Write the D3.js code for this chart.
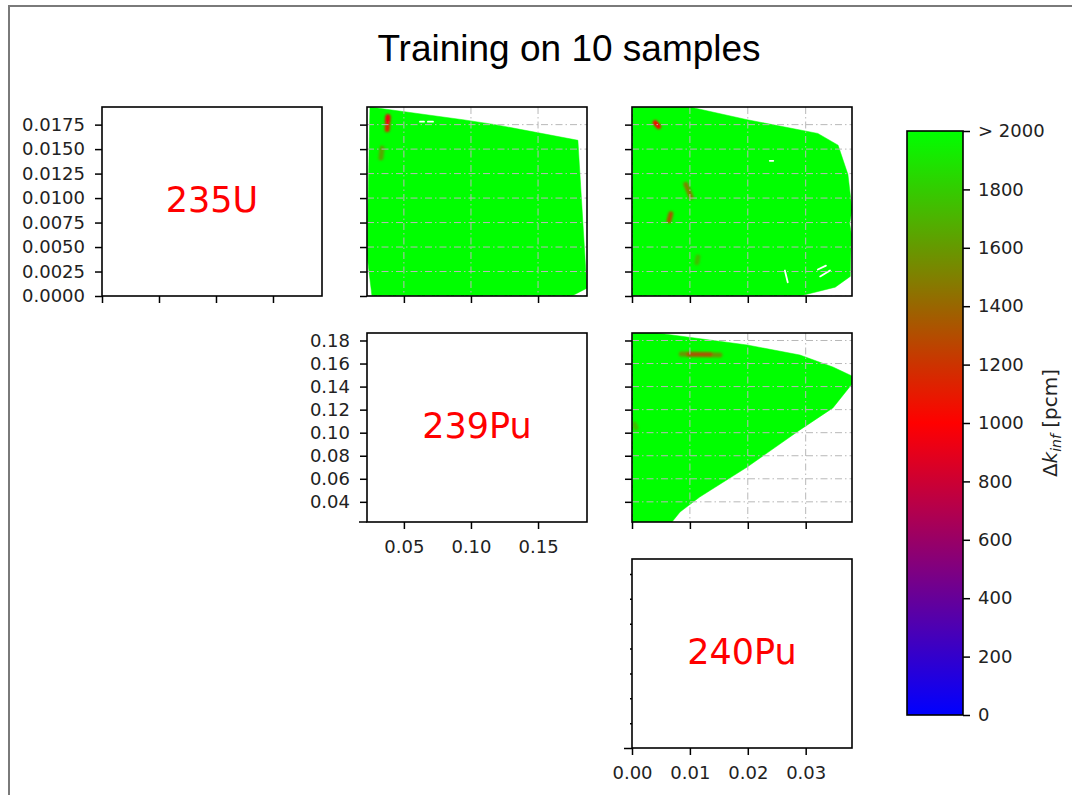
<!DOCTYPE html>
<html>
<head>
<meta charset="utf-8">
<script src="https://cdn.jsdelivr.net/npm/d3@7"></script>
<style>
  body { margin: 0; background: #fff; }
  svg { display: block; }
  .tick text { font-family: "DejaVu Sans", sans-serif; font-size: 18px; fill: #222; }
  .tick line { stroke: #000; stroke-width: 1.5; }
</style>
</head>
<body>
<svg id="chart" width="1072" height="795"></svg>
<script>
// isotopes on the diagonal of the corner plot
var isotopes = ["235U", "239Pu", "240Pu"];
var domains = [[0, 0.0193], [0.0225, 0.1865], [0, 0.038]];
var tickVals = [
    [0, 0.0025, 0.005, 0.0075, 0.01, 0.0125, 0.015, 0.0175],
    [0.04, 0.06, 0.08, 0.10, 0.12, 0.14, 0.16, 0.18],
    [0, 0.01, 0.02, 0.03]
];
var xTickVals = [
    [0, 0.005, 0.010, 0.015],
    [0.05, 0.10, 0.15],
    [0, 0.01, 0.02, 0.03]
];
var diagYTicks = [0, 0.005, 0.01, 0.015, 0.02, 0.025, 0.03, 0.035];
var tickFormats = [".4f", ".2f", ".2f"];

// colour bar
var cbarStops = [0, 1000, 2000];
var cbarColors = ["#0000ff", "#ff0000", "#00ff00"];
var cbarTicks = [0, 200, 400, 600, 800, 1000, 1200, 1400, 1600, 1800, 2000];

// region covered by the samples, [x, y] in data units (value > 2000 pcm inside)
var hull_239_235 = [[0.0247, 0.0193], [0.0940, 0.0180], [0.1180, 0.0175], [0.1797, 0.0159],
    [0.1864, 0.0008], [0.1752, 0], [0.0262, 0], [0.0225, 0.0042]];
var hull_240_235 = [[0, 0.0193], [0.0100, 0.0193], [0.0199, 0.0180], [0.0321, 0.0166],
    [0.0356, 0.0154], [0.0373, 0.0124], [0.0380, 0.0088], [0.0376, 0.0074], [0.0379, 0.0063],
    [0.0377, 0.0020], [0.0351, 0.0009], [0.0290, 0], [0, 0]];
var hull_240_239 = [[0, 0.1865], [0.0043, 0.1865], [0.0199, 0.1761], [0.0290, 0.1674],
    [0.0347, 0.1570], [0.0380, 0.1492], [0.0380, 0.1423], [0.0347, 0.1215], [0.0290, 0.1024],
    [0.0199, 0.0702], [0.0117, 0.0442], [0.0083, 0.0312], [0.0069, 0.0225], [0, 0.0225]];

// low-error streaks: [x1, y1, x2, y2, dk]
var spots_239_235 = [[0.0381, 0.0183, 0.0376, 0.0170, 1150], [0.0381, 0.0183, 0.0380, 0.0179, 950],
    [0.0337, 0.0151, 0.0329, 0.0141, 1650]];
var spots_240_235 = [[0.0040, 0.0177, 0.0046, 0.0173, 1000], [0.0093, 0.0114, 0.0102, 0.0101, 1500],
    [0.0067, 0.0084, 0.0064, 0.0077, 1350], [0.0114, 0.0040, 0.0112, 0.0034, 1750]];
var spots_240_239 = [[0.0085, 0.1683, 0.0152, 0.1675, 1600], [0.0098, 0.1681, 0.0135, 0.1678, 1350],
    [0.0004, 0.1076, 0.0007, 0.1041, 1750]];

// small gaps in the coverage: [x1, y1, x2, y2]
var gaps_239_235 = [[0.0620, 0.0178, 0.0650, 0.0178], [0.0679, 0.0178, 0.0717, 0.0178]];
var gaps_240_235 = [[0.0264, 0.0026, 0.0269, 0.0014], [0.0321, 0.0027, 0.0335, 0.0031],
    [0.0325, 0.0020, 0.0342, 0.0026], [0.0238, 0.0138, 0.0244, 0.0138]];
var gaps_240_239 = [];

var panels = [
    {row: 0, col: 1, hull: hull_239_235, spots: spots_239_235, gaps: gaps_239_235},
    {row: 0, col: 2, hull: hull_240_235, spots: spots_240_235, gaps: gaps_240_235},
    {row: 1, col: 2, hull: hull_240_239, spots: spots_240_239, gaps: gaps_240_239}
];

var colLeft = [102, 367, 632], rowTop = [107, 333, 559];
var pw = 220, ph = 189;

var svg = d3.select("#chart");
var defs = svg.append("defs");

var color = d3.scaleLinear().domain(cbarStops).range(cbarColors).clamp(true);

// blur for the streaks; user space region so thin vertical lines are not cut away
defs.append("filter").attr("id", "soft")
    .attr("filterUnits", "userSpaceOnUse")
    .attr("x", 0).attr("y", 0).attr("width", 1072).attr("height", 795)
    .append("feGaussianBlur").attr("stdDeviation", 1.3);

// figure frame
svg.append("rect").attr("x", 9).attr("y", 6).attr("width", 1200).attr("height", 900)
    .style("fill", "none").style("stroke", "#7a7a7a").style("stroke-width", 2);

svg.append("text")
    .attr("x", 569).attr("y", 61)
    .attr("text-anchor", "middle")
    .style("font-family", "'Liberation Sans', Arial, sans-serif")
    .style("font-size", "37px")
    .text("Training on 10 samples");

function xScale(col) {
    return d3.scaleLinear().domain(domains[col]).range([colLeft[col], colLeft[col] + pw]);
}
function yScale(row) {
    return d3.scaleLinear().domain(domains[row]).range([rowTop[row] + ph, rowTop[row]]);
}

// off-diagonal panels
panels.forEach(function (p, i) {
    var x = xScale(p.col), y = yScale(p.row);
    var g = svg.append("g");
    defs.append("clipPath").attr("id", "clip" + i)
        .append("rect").attr("x", colLeft[p.col]).attr("y", rowTop[p.row])
        .attr("width", pw).attr("height", ph);
    var inner = g.append("g").attr("clip-path", "url(#clip" + i + ")");

    var line = d3.line().x(function (d) { return x(d[0]); })
        .y(function (d) { return y(d[1]); })
        .curve(d3.curveLinearClosed);
    inner.append("path").attr("d", line(p.hull))
        .style("fill", color(2000)).style("stroke", color(2000)).style("stroke-width", 0.5);

    inner.append("g").attr("filter", "url(#soft)")
        .selectAll(".spot").data(p.spots).enter().append("line")
        .attr("x1", function (d) { return x(d[0]); })
        .attr("y1", function (d) { return y(d[1]); })
        .attr("x2", function (d) { return x(d[2]); })
        .attr("y2", function (d) { return y(d[3]); })
        .style("stroke", function (d) { return color(d[4]); })
        .style("stroke-width", 5).style("stroke-linecap", "round");

    inner.selectAll(".gap").data(p.gaps).enter().append("line")
        .attr("x1", function (d) { return x(d[0]); })
        .attr("y1", function (d) { return y(d[1]); })
        .attr("x2", function (d) { return x(d[2]); })
        .attr("y2", function (d) { return y(d[3]); })
        .style("stroke", "#fff").style("stroke-width", 1.8).style("stroke-linecap", "round");

    // dash-dot grid on top
    inner.selectAll(".vgrid").data(xTickVals[p.col]).enter().append("line")
        .attr("x1", x).attr("x2", x)
        .attr("y1", rowTop[p.row]).attr("y2", rowTop[p.row] + ph)
        .style("stroke", "#b8b8b8").style("stroke-width", 1).style("stroke-dasharray", "7,3,1.5,3");
    inner.selectAll(".hgrid").data(tickVals[p.row]).enter().append("line")
        .attr("y1", y).attr("y2", y)
        .attr("x1", colLeft[p.col]).attr("x2", colLeft[p.col] + pw)
        .style("stroke", "#b8b8b8").style("stroke-width", 1).style("stroke-dasharray", "7,3,1.5,3");

    g.append("g").attr("transform", "translate(" + colLeft[p.col] + ",0)")
        .call(d3.axisLeft(y).tickValues(tickVals[p.row]).tickSize(7).tickFormat(""));
    g.append("g").attr("transform", "translate(0," + (rowTop[p.row] + ph) + ")")
        .call(d3.axisBottom(x).tickValues(xTickVals[p.col]).tickSize(7).tickFormat(""));
});

// diagonal panels
isotopes.forEach(function (name, k) {
    var x = xScale(k), y = yScale(k);
    var g = svg.append("g");
    var xAx = d3.axisBottom(x).tickValues(xTickVals[k]).tickSize(7).tickPadding(11);
    if (k === 0) {
        xAx.tickFormat("");
    } else {
        xAx.tickFormat(d3.format(".2f"));
    }
    g.append("g").attr("transform", "translate(0," + (rowTop[k] + ph) + ")").call(xAx);

    if (k < 2) {
        g.append("g").attr("transform", "translate(" + colLeft[k] + ",0)")
            .call(d3.axisLeft(y).tickValues(tickVals[k]).tickSize(7).tickPadding(10)
                .tickFormat(d3.format(tickFormats[k])));
    } else {
        var ya = g.append("g").attr("transform", "translate(" + colLeft[k] + ",0)")
            .call(d3.axisLeft(y).tickValues(diagYTicks).tickSize(2).tickFormat(""));
        ya.selectAll(".tick line").filter(function (d) { return d === 0; }).attr("x2", -8);
    }
    if (k === 1) {
        g.append("line").attr("x1", colLeft[k] - 8).attr("x2", colLeft[k])
            .attr("y1", rowTop[k] + ph).attr("y2", rowTop[k] + ph)
            .style("stroke", "#000").style("stroke-width", 1.5);
    }

    g.append("text")
        .attr("x", colLeft[k] + pw / 2).attr("y", rowTop[k] + ph / 2 + 10)
        .attr("text-anchor", "middle")
        .style("font-family", "'DejaVu Sans', sans-serif").style("font-size", "35px")
        .style("fill", "#ff0000")
        .text(name);
});

svg.selectAll(".domain").remove();

// spines
var frames = [];
isotopes.forEach(function (n, r) {
    isotopes.forEach(function (m, c) { if (c >= r) { frames.push([r, c]); } });
});
svg.selectAll(".spine").data(frames).enter().append("rect")
    .attr("x", function (d) { return colLeft[d[1]]; })
    .attr("y", function (d) { return rowTop[d[0]]; })
    .attr("width", pw).attr("height", ph)
    .style("fill", "none").style("stroke", "#000").style("stroke-width", 1.6);

// colour bar
var cbX = 907, cbW = 56, cbTop = 131, cbBot = 715;
var cbScale = d3.scaleLinear().domain([0, 2000]).range([cbBot, cbTop]);
var grad = defs.append("linearGradient").attr("id", "cbgrad")
    .attr("x1", 0).attr("y1", 1).attr("x2", 0).attr("y2", 0);
grad.selectAll("stop").data(d3.range(0, 2001, 100)).enter().append("stop")
    .attr("offset", function (d) { return d / 2000; })
    .attr("stop-color", function (d) { return color(d); });
svg.append("rect").attr("x", cbX).attr("y", cbTop).attr("width", cbW).attr("height", cbBot - cbTop)
    .style("fill", "url(#cbgrad)").style("stroke", "#000").style("stroke-width", 1.6);
svg.append("g").attr("transform", "translate(" + (cbX + cbW) + ",0)")
    .call(d3.axisRight(cbScale).tickValues(cbarTicks).tickSize(7).tickPadding(8)
        .tickFormat(function (d) { return d === 2000 ? "> 2000" : d; }))
    .select(".domain").remove();

var lab = svg.append("text")
    .attr("transform", "translate(1057," + (cbTop + cbBot) / 2 + ") rotate(-90)")
    .attr("text-anchor", "middle")
    .style("font-family", "'DejaVu Sans', sans-serif").style("font-size", "20px")
    .style("fill", "#222");
lab.append("tspan").text("Δ");
lab.append("tspan").style("font-style", "italic").text("k");
lab.append("tspan").attr("dy", 4).style("font-size", "14px").style("font-style", "italic").text("inf");
lab.append("tspan").attr("dy", -4).text(" [pcm]");
</script>
</body>
</html>
